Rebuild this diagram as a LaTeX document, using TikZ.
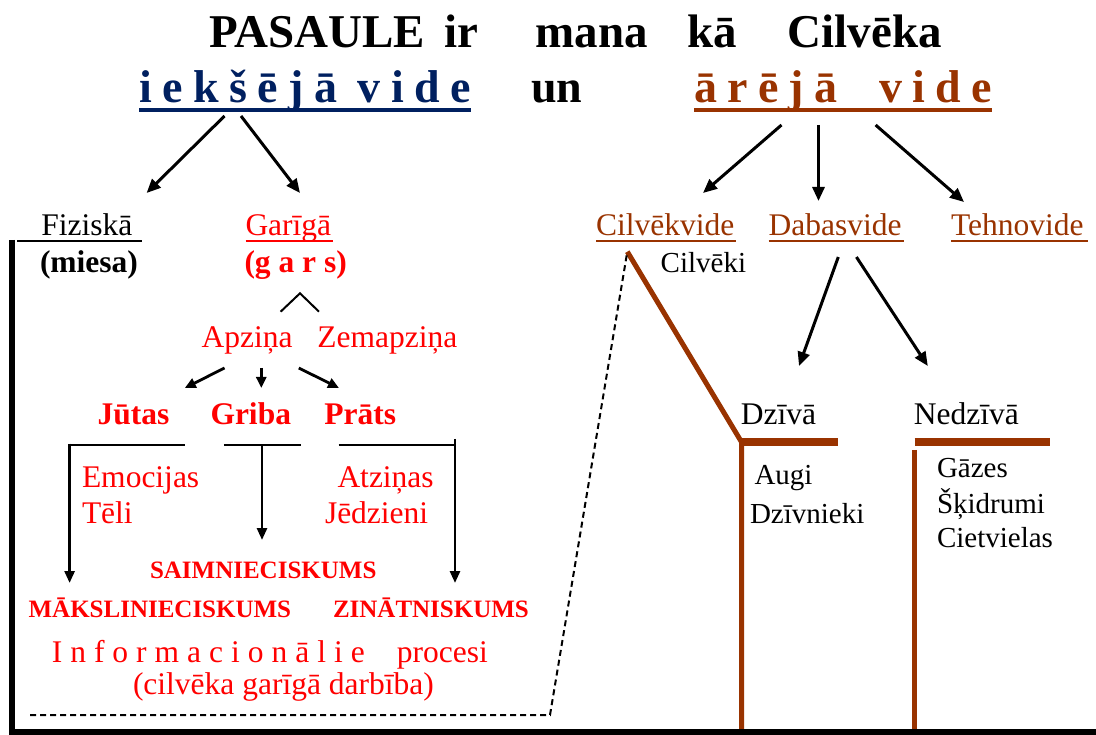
\documentclass[tikz,border=0pt]{standalone}
\usepackage{fontspec}
\setmainfont{Liberation Serif}
\usetikzlibrary{arrows.meta}
\definecolor{navy}{RGB}{0,32,96}
\definecolor{rust}{RGB}{153,51,0}
\definecolor{redt}{RGB}{255,0,0}
\newcommand\fsT{\fontsize{47}{52}\selectfont\bfseries}
\newcommand\fsL{\fontsize{46}{52}\selectfont\bfseries}
\newcommand\fsM{\fontsize{31.5}{36}\selectfont}
\newcommand\fsS{\fontsize{29}{34}\selectfont}
\newcommand\fsC{\fontsize{25}{30}\selectfont\bfseries}
\begin{document}
\begin{tikzpicture}[x=1pt,y=-1pt,
  txt/.style={anchor=base west,inner sep=0pt,outer sep=0pt},
  arr/.style={line width=3pt,-{Triangle[length=14pt,width=12pt]}},
  sarr/.style={line width=2.8pt,-{Triangle[length=11pt,width=10pt]}},
  darr/.style={line width=2.7pt,-{Triangle[length=12pt,width=10pt]}},
  thinline/.style={line width=2pt},
  frame/.style={line width=6pt},
  rustthick/.style={rust,line width=5pt},
  rustbar/.style={rust,line width=8pt},
  dashline/.style={line width=2pt,dash pattern=on 6pt off 4pt}
]
\useasboundingbox (0,0) rectangle (1096,735);

% title
\node[txt] (title) at (209,48) {\fsT PASAULE\hspace{20pt}ir\hspace{57pt}mana\hspace{39pt}kā\hspace{51pt}Cilvēka};
\node[txt,text=navy] (inner) at (139,103) {\fsL\makebox[332pt][s]{i\hfill e\hfill k\hfill š\hfill ē\hfill j\hfill ā\hfill\hfill v\hfill i\hfill d\hfill e}};
\node[txt] (un) at (531,103) {\fsL un};
\node[txt,text=rust] (outer) at (694,103) {\fsL\makebox[298pt][s]{ā\hfill r\hfill ē\hfill j\hfill ā\hfill\hfill\hfill\hfill v\hfill i\hfill d\hfill e}};
\draw[navy,line width=4pt] (139,110) -- (471,110);
\draw[rust,line width=4pt] (694,110) -- (992,110);

% arrows from headings
\coordinate (i1) at (224.5,116); \coordinate (i1t) at (146.6,193);
\coordinate (i2) at (241,116);   \coordinate (i2t) at (300,193);
\draw[arr] (i1) -- (i1t);
\draw[arr] (i2) -- (i2t);
\coordinate (o1) at (781.5,125); \coordinate (o1t) at (703,193);
\coordinate (o2) at (818.5,125); \coordinate (o2t) at (818.5,201);
\coordinate (o3) at (875.6,125); \coordinate (o3t) at (964,202);
\draw[arr] (o1) -- (o1t);
\draw[arr] (o2) -- (o2t);
\draw[arr] (o3) -- (o3t);

% left column
\node[txt] (fiz) at (41.4,236) {\fsM Fiziskā};
\draw[thinline] (17,241) -- (142,241);
\node[txt] (miesa) at (40,273) {\fsM\bfseries (miesa)};
\node[txt,text=redt] (gar) at (245.5,236) {\fsM Garīgā};
\draw[redt,thinline] (245.5,241) -- (332.5,241);
\node[txt,text=redt] (gars) at (244.5,273) {\fsM\bfseries (g a r s)};
\draw[thinline] (280.6,311.7) -- (300,293.3) -- (319,311.7);
\node[txt,text=redt] (apz) at (201.7,348) {\fsM Apziņa};
\node[txt,text=redt] (zem) at (317.4,348) {\fsM Zemapziņa};
\draw[sarr] (224.5,368) -- (184.8,388);
\draw[sarr] (261.3,368) -- (261.3,388);
\draw[sarr] (298.8,368) -- (339,388);
\node[txt,text=redt] (jut) at (97.5,425) {\fsM\bfseries Jūtas};
\node[txt,text=redt] (gri) at (210.5,425) {\fsM\bfseries Griba};
\node[txt,text=redt] (pra) at (324.4,425) {\fsM\bfseries Prāts};
\draw[line width=2.5pt] (69.6,445) -- (184.8,445);
\draw[line width=2.5pt] (223.8,445) -- (300.6,445);
\draw[line width=2.5pt] (338.5,445) -- (456,445);
\draw[darr] (69.6,443.75) -- (69.6,583);
\draw[darr] (262,445) -- (262,540);
\draw[darr] (455,439) -- (455,583);
\node[txt,text=redt] (emo) at (82,487) {\fsM Emocijas};
\node[txt,text=redt] (tel) at (82,523) {\fsM Tēli};
\node[txt,text=redt] (atz) at (337.5,487) {\fsM Atziņas};
\node[txt,text=redt] (jed) at (325,523) {\fsM Jēdzieni};
\node[txt,text=redt] (saim) at (150,578) {\fsC SAIMNIECISKUMS};
\node[txt,text=redt] (mak) at (28.6,617) {\fsC MĀKSLINIECISKUMS};
\node[txt,text=redt] (zin) at (333,617) {\fsC ZINĀTNISKUMS};
\node[txt,text=redt] (info) at (51.8,662) {\fsM\makebox[313pt][s]{I\hfill n\hfill f\hfill o\hfill r\hfill m\hfill a\hfill c\hfill i\hfill o\hfill n\hfill ā\hfill l\hfill i\hfill e}\hspace{32pt}procesi};
\node[txt,text=redt] (darb) at (133,694) {\fsM (cilvēka garīgā darbība)};

% right column
\node[txt,text=rust] (cv) at (596,236) {\fsM Cilvēkvide};
\node[txt,text=rust] (dv) at (768.7,236) {\fsM Dabasvide};
\node[txt,text=rust] (tv) at (951,236) {\fsM Tehnovide};
\draw[rust,thinline] (596,241) -- (736,241);
\draw[rust,thinline] (768.7,241) -- (904,241);
\draw[rust,thinline] (951,241) -- (1088,241);
\node[txt] (cilv) at (660.7,273) {\fsS Cilvēki};
\draw[arr] (838.3,257) -- (799,366);
\draw[arr] (856.4,257) -- (927.8,366);
\node[txt] (dz) at (740.8,425) {\fsM Dzīvā};
\node[txt] (ndz) at (913.9,425) {\fsM Nedzīvā};
\coordinate (cvt) at (627.3,251.7);
\coordinate (dzc) at (741.5,442);
\draw[rustthick,line join=miter] (cvt) -- (dzc) -- (741.5,729);
\draw[rustbar] (739,442) -- (838.3,442);
\draw[rustbar] (914.5,442) -- (1049.6,442);
\draw[rustthick] (914.8,450) -- (914.8,729);
\node[txt] (aug) at (754.5,485) {\fsS Augi};
\node[txt] (dzn) at (750,523) {\fsS Dzīvnieki};
\node[txt] (gaz) at (937,478) {\fsS Gāzes};
\node[txt] (ski) at (937,513) {\fsS Šķidrumi};
\node[txt] (cie) at (937,547) {\fsS Cietvielas};

% frame and dashed link
\draw[frame] (12,240) -- (12,731.5) -- (1096,731.5);
\draw[dashline] (30,715) -- (550,715) -- (cvt);
\end{tikzpicture}
\end{document}
